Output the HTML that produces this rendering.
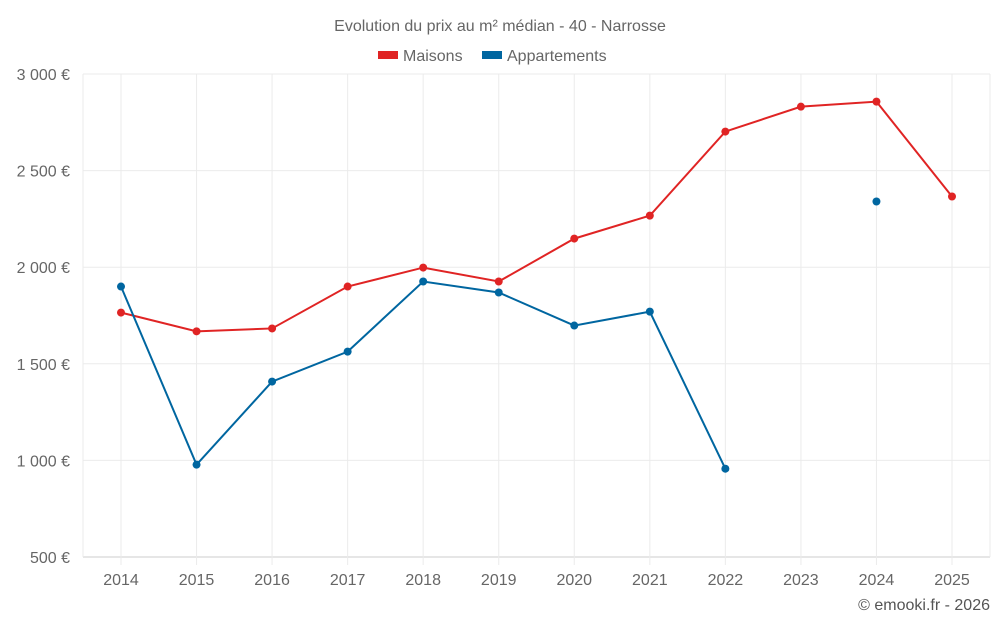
<!DOCTYPE html>
<html><head><meta charset="utf-8">
<style>
html,body{margin:0;padding:0;background:#fff;}
svg{display:block;font-family:"Liberation Sans",sans-serif;}
</style></head>
<body>
<svg id="chart" width="1000" height="625" viewBox="0 0 1000 625" xmlns="http://www.w3.org/2000/svg">
<text x="500" y="31" text-anchor="middle" font-size="16" fill="#666">Evolution du prix au m² médian - 40 - Narrosse</text>
<g><rect x="378" y="51" width="20" height="8" fill="#e02424"/><text x="403" y="61" font-size="16" fill="#666">Maisons</text></g>
<g><rect x="482" y="51" width="20" height="8" fill="#0066a0"/><text x="507" y="61" font-size="16" fill="#666">Appartements</text></g>
<g id="grid"></g><g id="axes"></g><g id="series"></g>
<text x="990" y="610" text-anchor="end" font-size="16" fill="#555">© emooki.fr - 2026</text>
</svg>
<script>
const years=[2014,2015,2016,2017,2018,2019,2020,2021,2022,2023,2024,2025];
const maisons=[1765,1668,1683,1900,1998,1926,2148,2267,2702,2831,2857,2366];
const appartements=[1900,978,1408,1563,1926,1869,1698,1770,957,null,2340,null];
const yTicks=[500,1000,1500,2000,2500,3000];
const yTickLabels=["500 €","1 000 €","1 500 €","2 000 €","2 500 €","3 000 €"];
const NS="http://www.w3.org/2000/svg";
const L=83,R=990,T=74,B=557;
const x=i=>121+i*(952-121)/(years.length-1);
const y=v=>B-(v-500)/2500*(B-T);
function mk(tag,attrs,parent){const e=document.createElementNS(NS,tag);for(const k in attrs)e.setAttribute(k,attrs[k]);parent.appendChild(e);return e;}
const grid=document.getElementById('grid'),axes=document.getElementById('axes'),series=document.getElementById('series');
yTicks.forEach((v,i)=>{
 const g=mk('line',{x1:L,x2:R,y1:y(v),y2:y(v),stroke:i==0?'#ccc':'#ebebeb','stroke-width':1},grid);
 
 
 const t=mk('text',{x:70,y:y(v)+6,'text-anchor':'end','font-size':16,fill:'#666'},axes);
 t.textContent=yTickLabels[i];
 
 
});
mk('line',{x1:L,x2:L,y1:T,y2:B,stroke:'#ebebeb'},grid);
mk('line',{x1:R,x2:R,y1:T,y2:B,stroke:'#ebebeb'},grid);
years.forEach((yr,i)=>{
 const g=mk('line',{x1:x(i),x2:x(i),y1:T,y2:B+8,stroke:'#ebebeb'},grid);
 
 
 const t=mk('text',{x:x(i),y:585,'text-anchor':'middle','font-size':16,fill:'#666'},axes);
 t.textContent=yr;
 
 
});
function draw(data,color,name){
 let seg=[];const segs=[];
 data.forEach((v,i)=>{if(v==null){if(seg.length)segs.push(seg);seg=[];}else seg.push([x(i),y(v)]);});
 if(seg.length)segs.push(seg);
 segs.forEach(s=>{if(s.length>1){const p=mk('polyline',{points:s.map(q=>q.join(',')).join(' '),fill:'none',stroke:color,'stroke-width':2},series);
  
  }});
 data.forEach((v,i)=>{if(v==null)return;const c=mk('circle',{cx:x(i),cy:y(v),r:4,fill:color},series);
  
  });
}
draw(maisons,'#e02424','maisons');
draw(appartements,'#0066a0','appartements');
</script>
</body></html>
